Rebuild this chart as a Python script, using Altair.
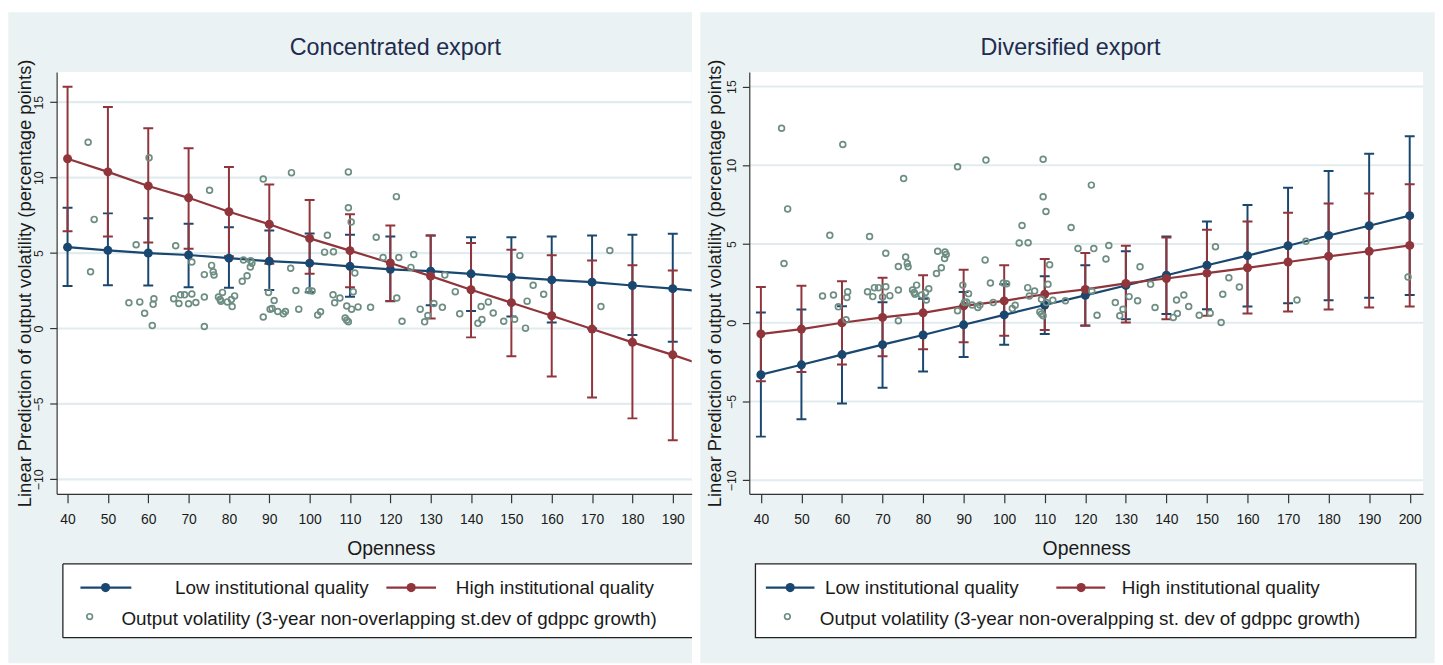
import altair as alt
import pandas as pd

# ---------------- data ----------------
OPEN_L = [40, 50, 60, 70, 80, 90, 100, 110, 120, 130, 140, 150, 160, 170, 180, 190]
OPEN_R = [40, 50, 60, 70, 80, 90, 100, 110, 120, 130, 140, 150, 160, 170, 180, 190, 200]

# Concentrated export
L_LOW_PRED = [5.39, 5.18, 5.00, 4.87, 4.66, 4.46, 4.33, 4.12, 3.92, 3.80, 3.62, 3.40, 3.22, 3.07, 2.85, 2.64]
L_LOW_LO = [2.81, 2.87, 2.85, 2.74, 2.70, 2.55, 2.40, 2.10, 1.80, 1.54, 1.16, 0.79, 0.39, 0.00, -0.44, -0.88]
L_LOW_HI = [8.00, 7.63, 7.30, 6.95, 6.71, 6.49, 6.30, 6.21, 6.10, 6.16, 6.05, 6.05, 6.10, 6.16, 6.21, 6.28]
L_HIGH_PRED = [11.25, 10.38, 9.45, 8.66, 7.74, 6.91, 5.97, 5.16, 4.34, 3.47, 2.57, 1.71, 0.84, -0.04, -0.92, -1.75]
L_HIGH_LO = [6.45, 6.10, 5.70, 5.29, 4.79, 4.29, 3.62, 2.74, 1.82, 0.66, -0.59, -1.84, -3.18, -4.58, -5.96, -7.41]
L_HIGH_HI = [16.03, 14.69, 13.27, 11.95, 10.70, 9.54, 8.51, 7.57, 6.82, 6.16, 5.66, 5.22, 4.85, 4.50, 4.19, 3.84]
# where the fitted lines leave the (cropped) left plot
L_LINE_END_X = 195
L_LOW_END = 2.52
L_HIGH_END = -2.20

# Diversified export
R_LOW_PRED = [-3.30, -2.67, -2.02, -1.39, -0.78, -0.13, 0.50, 1.13, 1.74, 2.37, 3.02, 3.65, 4.26, 4.89, 5.54, 6.16, 6.80]
R_LOW_LO = [-7.23, -6.13, -5.13, -4.12, -3.09, -2.18, -1.39, -0.71, -0.17, 0.23, 0.55, 0.86, 1.03, 1.24, 1.43, 1.59, 1.76]
R_LOW_HI = [0.65, 0.84, 1.05, 1.30, 1.52, 1.95, 2.44, 2.96, 3.65, 4.54, 5.48, 6.43, 7.48, 8.57, 9.64, 10.73, 11.85]
R_HIGH_PRED = [-0.71, -0.40, 0.00, 0.34, 0.63, 1.07, 1.39, 1.81, 2.12, 2.50, 2.81, 3.15, 3.49, 3.86, 4.22, 4.54, 4.91]
R_HIGH_LO = [-3.72, -3.13, -2.65, -2.12, -1.68, -1.24, -0.82, -0.46, -0.19, 0.02, 0.23, 0.44, 0.59, 0.71, 0.84, 0.97, 1.03]
R_HIGH_HI = [2.27, 2.35, 2.63, 2.86, 3.02, 3.36, 3.65, 4.05, 4.43, 4.89, 5.42, 5.90, 6.43, 6.99, 7.58, 8.21, 8.80]

# observed output volatility (same observations in both panels)
SCAT_OPEN = [45.1, 60.2, 46.6, 45.7, 57.0, 66.8, 75.2, 88.5, 95.5, 70.8, 75.7, 73.9, 76.1, 76.3, 83.6, 85.4,
             85.7, 85.3, 84.5, 83.3, 95.3, 55.2, 57.9, 59.1, 61.2, 61.4, 61.0, 66.3, 67.6, 68.0, 69.0, 70.8,
             70.0, 71.8, 73.9, 73.9, 77.4, 77.8, 78.4, 78.0, 79.6, 80.6, 81.4, 80.8, 88.5, 89.8, 91.2, 90.2,
             90.7, 92.1, 93.5, 94.0,
             109.6, 109.6, 110.3, 121.5, 104.4, 103.7, 105.9, 116.5, 118.2, 122.1, 125.8, 125.1, 111.2, 133.5,
             96.6, 99.8, 100.6, 105.8, 107.5, 106.2, 110.8, 121.6, 136.1, 97.3, 102.0, 102.7, 109.2, 110.4,
             112.0, 108.8, 109.2, 109.6, 115.1, 122.9, 127.4, 129.3, 128.5, 130.8, 132.9, 137.2, 142.5, 144.3,
             142.7, 141.7, 145.5, 148.1,
             152.1, 155.4, 158.0, 153.9, 150.8, 153.5, 172.2, 174.4, 199.6]
SCAT_VOL = [12.35, 11.32, 7.23, 3.76, 5.55, 5.48, 9.16, 9.91, 10.33, 4.41, 4.18, 3.57, 3.76, 3.55, 4.54, 4.49,
            4.33, 4.08, 3.49, 3.13, 3.99, 1.70, 1.76, 1.01, 1.60, 1.97, 0.19, 1.97, 1.66, 2.23, 2.23, 2.29,
            1.64, 1.72, 2.08, 0.13, 2.08, 1.92, 2.39, 1.81, 1.76, 1.92, 2.16, 1.45, 0.76, 2.39, 1.85, 1.28,
            1.32, 1.13, 0.97, 1.13,
            10.38, 8.00, 7.06, 8.74, 6.18, 5.06, 5.08, 6.05, 4.71, 4.71, 4.91, 4.05, 3.68, 3.55,
            2.52, 2.52, 2.48, 2.23, 2.02, 1.70, 2.44, 2.02, 2.44, 1.28, 0.90, 1.11, 1.49, 1.28,
            1.43, 0.69, 0.55, 0.44, 1.40, 0.48, 1.28, 0.86, 0.44, 1.66, 1.40, 0.97, 1.45, 1.76,
            0.59, 0.34, 1.03, 0.48,
            4.83, 2.86, 2.27, 1.81, 0.61, 0.02, 1.45, 5.17, 2.90]

Y_TICKS = [-10, -5, 0, 5, 10, 15]
X_TICKS_L = OPEN_L
X_TICKS_R = OPEN_R

TITLE_L = "Concentrated export"
TITLE_R = "Diversified export"
Y_TITLE = "Linear Prediction of output volatility (percentage points)"
X_TITLE = "Openness"
LEG_LOW = "Low institutional quality"
LEG_HIGH = "High institutional quality"
LEG_SCAT_L = "Output volatility (3-year non-overlapping st.dev of gdppc growth)"
LEG_SCAT_R = "Output volatility (3-year non-overalpping st. dev of gdppc growth)"

# ---------------- styles ----------------
NAVY = "#1A476F"
MAROON = "#90353B"
TEAL = "#6E8E84"
BG = "#EAF2F3"
GRID = "#E2ECEE"
INK = "#1a1a1a"
TITLE_INK = "#1E2C4F"
FONT = "Liberation Sans, Arial, sans-serif"
H = 425

DEC = pd.DataFrame({"k": [0]})


def vrect(x1, x2, y1, y2, **kw):
    return alt.Chart(DEC).mark_rect(clip=False, **kw).encode(
        x=alt.value(x1), x2=alt.value(x2), y=alt.value(y1), y2=alt.value(y2))


def hline(x1, x2, y, color, width):
    return alt.Chart(DEC).mark_rule(clip=False, color=color, strokeWidth=width).encode(
        x=alt.value(x1), x2=alt.value(x2), y=alt.value(y))


def vline(x, y1, y2, color, width):
    return alt.Chart(DEC).mark_rule(clip=False, color=color, strokeWidth=width).encode(
        x=alt.value(x), y=alt.value(y1), y2=alt.value(y2))


def label(txt, x, y, size, color, align="left"):
    return alt.Chart(DEC).mark_text(text=txt, clip=False, font=FONT, fontSize=size, color=color,
                                    align=align, baseline="alphabetic").encode(
        x=alt.value(x), y=alt.value(y))


def dot(x, y, color, size, filled=True, sw=1.5):
    return alt.Chart(DEC).mark_point(clip=False, shape="circle", filled=filled, size=size, color=color,
                                     opacity=1, strokeWidth=sw).encode(x=alt.value(x), y=alt.value(y))


def panel(W, xdom, ydom, xticks, title, title_x, ytitle_x, xtitle_x, pred, line_df, scat, leg):
    xs = alt.Scale(domain=xdom, nice=False, zero=False)
    ys = alt.Scale(domain=ydom, nice=False, zero=False)
    xax = alt.Axis(values=xticks, grid=False, zindex=1, domainColor="#333333", domainWidth=1.2,
                   tickColor="#333333", tickWidth=1.2, tickSize=9, labelFont=FONT, labelFontSize=14,
                   labelColor=INK, labelPadding=10, labelFlush=False, labelOverlap=False,
                   title=X_TITLE, titleFont=FONT, titleFontSize=19.5, titleFontWeight="normal",
                   titleColor=INK, titleX=xtitle_x, titleY=60.7, titleAlign="center",
                   titleBaseline="alphabetic")
    yax = alt.Axis(values=Y_TICKS, grid=False, zindex=1, domainColor="#333333", domainWidth=1.2,
                   tickColor="#333333", tickWidth=1.2, tickSize=7, labelFont=FONT, labelFontSize=12.5,
                   labelColor=INK, labelAngle=270, labelAlign="center", labelBaseline="bottom",
                   labelPadding=4, labelOverlap=False, labelFlush=False,
                   title=Y_TITLE, titleFont=FONT, titleFontSize=18.5, titleFontWeight="normal",
                   titleColor=INK, titleAngle=270, titleX=ytitle_x, titleY=H / 2,
                   titleAlign="center", titleBaseline="middle")

    def X(f):
        return alt.X(f, type="quantitative", scale=xs, axis=xax)

    def Y(f):
        return alt.Y(f, type="quantitative", scale=ys, axis=yax)

    grid_df = pd.DataFrame({"v": Y_TICKS})
    layers = [
        vrect(leg["bg_x1"], leg["bg_x2"], -60.3, 595.7, fill=BG),
        vrect(0, W, 0, H, fill="white"),
        alt.Chart(grid_df).mark_rule(color=GRID, strokeWidth=2.2).encode(y=Y("v")),
    ]
    for grp, col in (("low", NAVY), ("high", MAROON)):
        d = pred[pred["grp"] == grp]
        base = alt.Chart(d)
        layers.append(base.mark_rule(color=col, strokeWidth=2, clip=True).encode(
            x=X("open"), y=Y("lo"), y2=alt.Y2("hi")))
        layers.append(base.mark_tick(color=col, orient="horizontal", size=10, thickness=2,
                                     opacity=1, clip=True).encode(x=X("open"), y=Y("lo")))
        layers.append(base.mark_tick(color=col, orient="horizontal", size=10, thickness=2,
                                     opacity=1, clip=True).encode(x=X("open"), y=Y("hi")))
    for grp, col in (("low", NAVY), ("high", MAROON)):
        d = pred[pred["grp"] == grp]
        ld = line_df[line_df["grp"] == grp]
        layers.append(alt.Chart(ld).mark_line(color=col, strokeWidth=2.2, clip=True).encode(
            x=X("open"), y=Y("pred")))
        layers.append(alt.Chart(d).mark_point(shape="circle", filled=True, color=col, size=82,
                                              opacity=1, clip=True).encode(x=X("open"), y=Y("pred")))
    layers.append(alt.Chart(scat).mark_point(shape="circle", filled=False, color=TEAL, size=34,
                                             strokeWidth=1.7, opacity=1, clip=True).encode(
        x=X("open"), y=Y("vol")))

    # panel title
    layers.append(label(title, title_x, -17.6, 23.5, TITLE_INK, align="center"))

    # legend box
    bx1, bx2, by1, by2 = leg["box"]
    if leg["open_right"]:
        layers.append(vrect(bx1, bx2, by1, by2, fill="white"))
        layers.append(hline(bx1, bx2, by1, "#222222", 1.3))
        layers.append(hline(bx1, bx2, by2, "#222222", 1.3))
        layers.append(vline(bx1, by1, by2, "#222222", 1.3))
    else:
        layers.append(vrect(bx1, bx2, by1, by2, fill="white", stroke="#222222", strokeWidth=1.3))
    r1s, r1t, r2s, r2t = 519.5, 526.2, 548.7, 557.7
    lx1, lx2, ldot, ltxt = leg["low"]
    hx1, hx2, hdot, htxt = leg["high"]
    sdot, stxt = leg["scat"]
    layers += [
        hline(lx1, lx2, r1s, NAVY, 2.2),
        dot(ldot, r1s, NAVY, 85),
        label(LEG_LOW, ltxt, r1t, 19, INK),
        hline(hx1, hx2, r1s, MAROON, 2.2),
        dot(hdot, r1s, MAROON, 85),
        label(LEG_HIGH, htxt, r1t, 19, INK),
        dot(sdot, r2s, TEAL, 32, filled=False, sw=1.7),
        label(leg["scat_text"], stxt, r2t, 19, INK),
    ]
    return alt.layer(*layers).properties(width=W, height=H)


def pred_frame(opens, lp, ll, lh, hp, hl, hh):
    a = pd.DataFrame({"open": opens, "pred": lp, "lo": ll, "hi": lh, "grp": "low"})
    b = pd.DataFrame({"open": opens, "pred": hp, "lo": hl, "hi": hh, "grp": "high"})
    return pd.concat([a, b], ignore_index=True)


scat_df = pd.DataFrame({"open": SCAT_OPEN, "vol": SCAT_VOL})

pred_L = pred_frame(OPEN_L, L_LOW_PRED, L_LOW_LO, L_LOW_HI, L_HIGH_PRED, L_HIGH_LO, L_HIGH_HI)
line_L = pd.concat([
    pd.DataFrame({"open": OPEN_L + [L_LINE_END_X], "pred": L_LOW_PRED + [L_LOW_END], "grp": "low"}),
    pd.DataFrame({"open": OPEN_L + [L_LINE_END_X], "pred": L_HIGH_PRED + [L_HIGH_END], "grp": "high"}),
], ignore_index=True)

pred_R = pred_frame(OPEN_R, R_LOW_PRED, R_LOW_LO, R_LOW_HI, R_HIGH_PRED, R_HIGH_LO, R_HIGH_HI)
line_R = pred_R[["open", "pred", "grp"]]

left = panel(
    W=640, xdom=[37.29, 194.7], ydom=[-10.96, 17.0], xticks=X_TICKS_L,
    title=TITLE_L, title_x=341.3, ytitle_x=-32.7, xtitle_x=336.8,
    pred=pred_L, line_df=line_L, scat=scat_df,
    leg={"bg_x1": -48.7, "bg_x2": 640.3, "box": (6.3, 640.3, 495.7, 570.0), "open_right": True,
         "low": (24.0, 75.3, 49.3, 119.3), "high": (332.3, 382.3, 357.3, 402.3),
         "scat": (33.3, 65.3), "scat_text": LEG_SCAT_L},
)

right = panel(
    W=679, xdom=[37.14, 203.3], ydom=[-10.86, 15.92], xticks=X_TICKS_R,
    title=TITLE_R, title_x=323.7, ytitle_x=-34.8, xtitle_x=339.5,
    pred=pred_R, line_df=line_R, scat=scat_df,
    leg={"bg_x1": -49.3, "bg_x2": 690.7, "box": (6.2, 671.7, 495.7, 570.0), "open_right": False,
         "low": (16.7, 65.7, 41.2, 76.2), "high": (309.4, 358.7, 334.4, 375.4),
         "scat": (38.4, 71.0), "scat_text": LEG_SCAT_R},
)

chart = alt.hconcat(left, right, spacing=6).properties(
    padding={"left": 0, "top": 1, "right": 0, "bottom": 0},
    background="white",
).configure_view(stroke=None)

chart.save("out.html", embed_options={"renderer": "svg", "actions": False})
